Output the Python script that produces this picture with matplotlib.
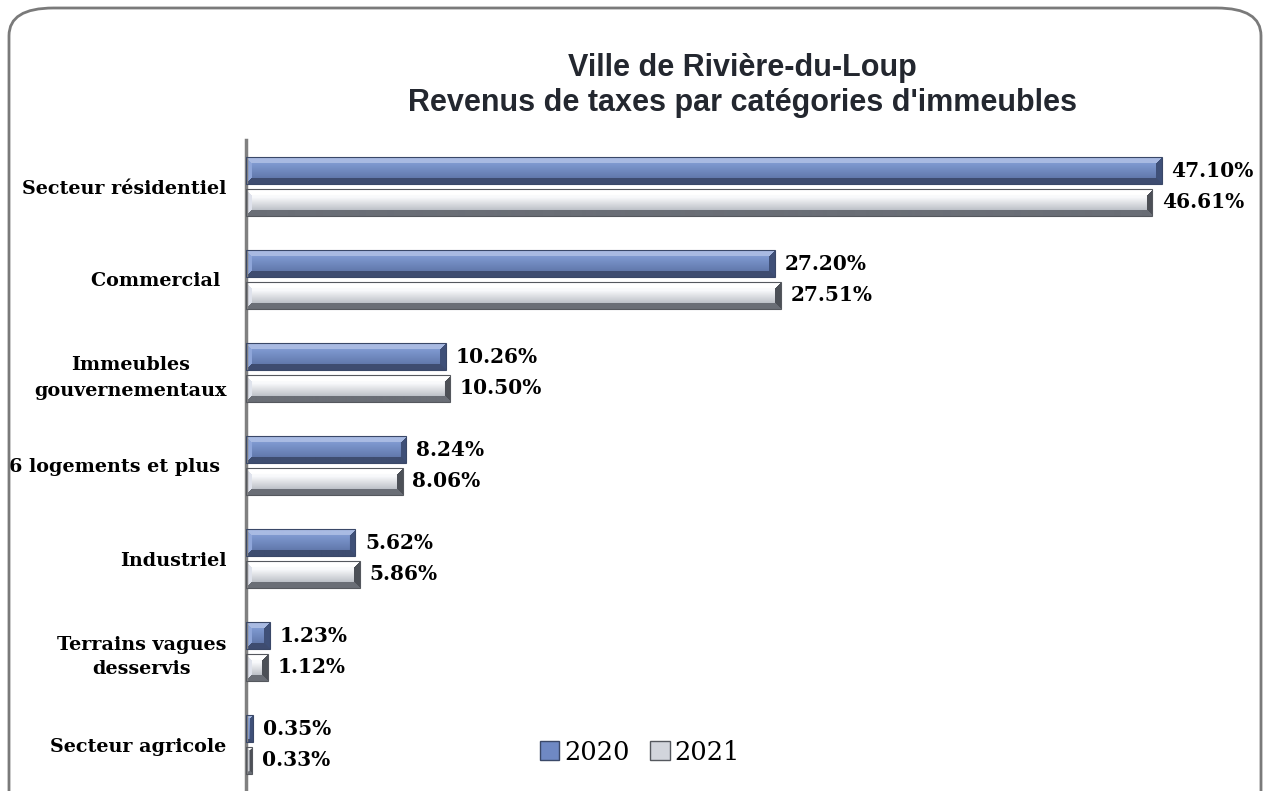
import numpy as np
import matplotlib
matplotlib.use("Agg")
import matplotlib.pyplot as plt
from matplotlib.patches import FancyBboxPatch, Patch

categories = ["Secteur résidentiel", "Commercial ", "Immeubles\ngouvernementaux",
              "6 logements et plus ", "Industriel", "Terrains vagues\ndesservis",
              "Secteur agricole"]
val_2020 = [47.10, 27.20, 10.26, 8.24, 5.62, 1.23, 0.35]
val_2021 = [46.61, 27.51, 10.50, 8.06, 5.86, 1.12, 0.33]
series = ["2020", "2021"]

W, H = 1269, 791
fig = plt.figure(figsize=(W / 100, H / 100), dpi=100)

# cadre arrondi
frame = FancyBboxPatch((9 / W, -0.05), 1252 / W, 1.05 - 8 / H,
                       boxstyle="round,pad=0,rounding_size=0.035",
                       transform=fig.transFigure, fill=False,
                       edgecolor="#7a7a7a", linewidth=2.0)
fig.patches.append(frame)

fig.text(742 / W, 1 - 68 / H, "Ville de Rivière-du-Loup", ha="center", va="center",
         fontsize=22, fontweight="bold", family="Liberation Sans", color="#23272f")
fig.text(742 / W, 1 - 103 / H, "Revenus de taxes par catégories d'immeubles", ha="center",
         va="center", fontsize=22, fontweight="bold", family="Liberation Sans",
         color="#23272f")

ax = fig.add_axes([246 / W, 0.0, 1 - 246 / W - 0.04, 1 - 140 / H])
XMAX = 50
ax.set_xlim(0, XMAX)
n = len(categories)
ax.set_ylim(-0.5, n - 0.5)
px_per_unit = (ax.get_position().width * W) / XMAX


def mix(c1, c2, t):
    c1 = np.array(matplotlib.colors.to_rgb(c1))
    c2 = np.array(matplotlib.colors.to_rgb(c2))
    return c1[None, :] * (1 - t[:, None]) + c2[None, :] * t[:, None]


def bevel_img(w, h, st):
    w = max(int(round(w)), 2)
    h = max(int(round(h)), 2)
    t = np.linspace(0, 1, h)
    face = np.where((t < 0.3)[:, None], mix(st["f0"], st["f1"], t / 0.3),
                    mix(st["f1"], st["f2"], np.clip((t - 0.3) / 0.7, 0, 1)))
    img = np.repeat(face[:, None, :], w, axis=1)
    yy, xx = np.mgrid[0:h, 0:w]
    b = min(6, w // 2, h // 2)
    d = np.stack([yy, h - 1 - yy, xx, w - 1 - xx])
    which = np.argmin(d, axis=0)
    dmin = np.min(d, axis=0)
    edge_cols = [st["top"], st["bot"], st["left"], st["right"]]
    for k, c in enumerate(edge_cols):
        m = (which == k) & (dmin < b)
        img[m] = matplotlib.colors.to_rgb(c)
    return img


styles = {
    "2020": dict(f0="#8fa7da", f1="#7b95cc", f2="#566c9e", top="#a9bbe3",
                 bot="#3e4d70", left="#8fa6da", right="#3f5078", edge="#3a4868"),
    "2021": dict(f0="#ffffff", f1="#f8f9fb", f2="#a3a8b1", top="#ffffff",
                 bot="#6a6e76", left="#dfe3ec", right="#4d5057", edge="#55585e"),
}

y = np.arange(n)[::-1]
bh = 0.29
off = 0.17
for s, vals, dy in [("2020", val_2020, off), ("2021", val_2021, -off)]:
    st = styles[s]
    bars = ax.barh(y + dy, vals, height=bh, color="none", edgecolor=st["edge"],
                   linewidth=0.8, zorder=3)
    for rect, v in zip(bars, vals):
        x0, y0 = rect.get_x(), rect.get_y()
        img = bevel_img(v * px_per_unit, bh * (ax.get_position().height * H) / n, st)
        ax.imshow(img, extent=(x0, x0 + v, y0, y0 + bh), origin="upper",
                  aspect="auto", zorder=2, interpolation="bilinear")
        ax.text(v + 0.5, y0 + bh / 2, f"{v:.2f}%", ha="left", va="center",
                fontsize=14.5, fontweight="bold", family="DejaVu Serif")

ax.set_xlim(0, XMAX)
ax.set_ylim(-0.5, n - 0.5)
ax.set_yticks(y)
ax.set_yticklabels(categories, fontsize=13.8, fontweight="bold", family="DejaVu Serif",
                   multialignment="center")
for lbl in ax.get_yticklabels():
    lbl.set_linespacing(1.5)
ax.tick_params(axis="y", length=0, pad=14)
ax.set_xticks([])
for sp in ["top", "right", "bottom"]:
    ax.spines[sp].set_visible(False)
ax.spines["left"].set_color("#808080")
ax.spines["left"].set_linewidth(2.5)
ax.patch.set_alpha(0)

handles = [Patch(facecolor="#6f89c4", edgecolor="#3a4868", label="2020"),
           Patch(facecolor="#d2d5dc", edgecolor="#55585e", label="2021")]
fig.legend(handles=handles, loc="center", bbox_to_anchor=(640 / W, 1 - 752 / H),
           ncol=2, frameon=False, handlelength=0.75, handleheight=0.75,
           handletextpad=0.2, columnspacing=0.8, prop={"family": "DejaVu Serif", "size": 18.5})

fig.savefig("out.png", dpi=100)
